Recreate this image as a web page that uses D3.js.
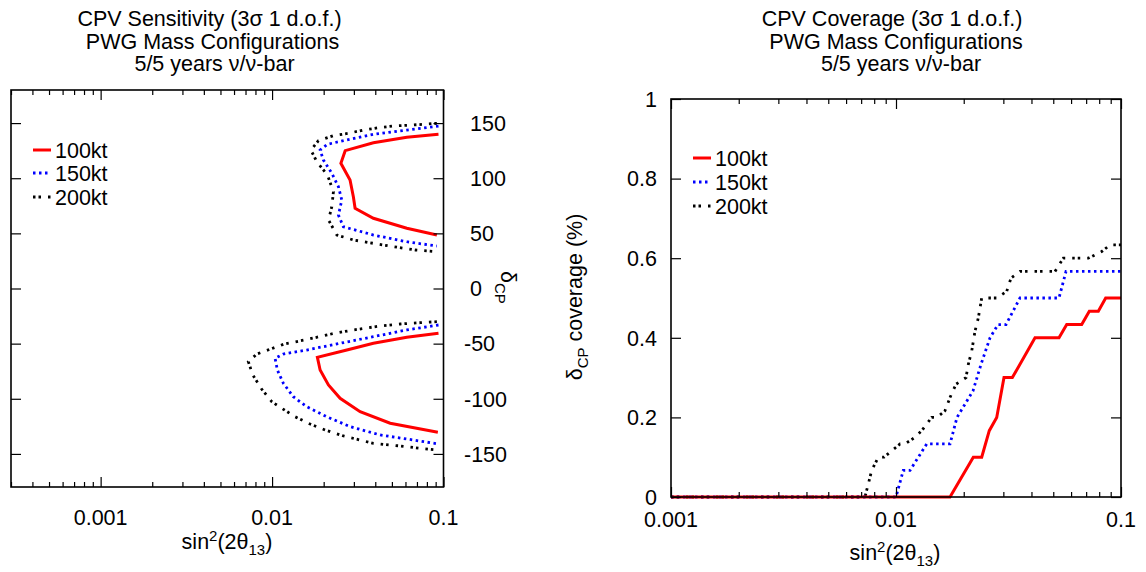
<!DOCTYPE html>
<html><head><meta charset="utf-8">
<script src="https://cdn.jsdelivr.net/npm/d3@7"></script>
<style>
body{margin:0;background:#fff}
svg{display:block}
text{font-family:"Liberation Sans",Arial,Helvetica,sans-serif;fill:#000}
</style></head><body>
<svg id="chart" width="1146" height="572"></svg>
<script>
// ---------- data ----------
const seriesNames  = ["100kt", "150kt", "200kt"];
const seriesColors = ["#ff0000", "#0000ff", "#000000"];

const sensTitle = ["CPV Sensitivity (3\u03c3 1 d.o.f.)", "PWG Mass Configurations", "5/5 years \u03bd/\u03bd-bar"];
const covTitle  = ["CPV Coverage (3\u03c3 1 d.o.f.)", "PWG Mass Configurations", "5/5 years \u03bd/\u03bd-bar"];

const sensXTicks = [0.001, 0.01, 0.1];
const sensYTicks = [-150, -100, -50, 0, 50, 100, 150];
const covXTicks  = [0.001, 0.01, 0.1];
const covYTicks  = [0, 0.2, 0.4, 0.6, 0.8, 1];

// 3 sigma CPV contours: [sin^2(2theta13), deltaCP in degrees]
const sens100Upper = [[0.0935,139.8],[0.0611,137.1],[0.039,132.2],[0.0267,125],[0.0252,113.5],[0.0285,98.4],
  [0.0298,83.2],[0.0305,72.7],[0.039,63.7],[0.0611,54.6],[0.0915,48.5]];
const sens150Upper = [[0.0935,147.3],[0.0611,143.7],[0.039,139.8],[0.0273,134.7],[0.02104,130.8],[0.01907,125.6],
  [0.01993,116.5],[0.02231,104.5],[0.02438,92.3],[0.02551,80.2],[0.02438,66.6],[0.02606,56],
  [0.039,48.5],[0.0611,42.4],[0.0915,38.5]];
const sens200Upper = [[0.0915,149.8],[0.0668,148.3],[0.0511,147.4],[0.0418,145.8],[0.0341,143.7],[0.02789,140.7],
  [0.0228,138.6],[0.01864,134],[0.01683,125.6],[0.01824,115],[0.02104,102.9],[0.0228,87.8],
  [0.02231,74.2],[0.02134,62.1],[0.02388,48.5],[0.02982,44],[0.04464,39.4],[0.0684,34.9],[0.0915,33.4]];
const sens100Lower = [[0.0935,-40.6],[0.0611,-44.3],[0.039,-49.7],[0.0273,-55.8],[0.01838,-62.4],[0.01907,-73.9],
  [0.02132,-87.5],[0.02494,-99.6],[0.03264,-111.7],[0.04886,-122.2],[0.0927,-130.4]];
const sens150Lower = [[0.0935,-33.1],[0.0611,-37.6],[0.039,-43.7],[0.02494,-49.7],[0.01594,-55.8],[0.01164,-59.4],
  [0.01041,-63.3],[0.01074,-73.9],[0.01164,-86],[0.0133,-98.1],[0.01594,-107.2],[0.02086,-116.3],
  [0.02853,-125.3],[0.04271,-132.8],[0.06682,-137.4],[0.0935,-141]];
const sens200Lower = [[0.0915,-30.1],[0.0731,-31],[0.0559,-32.2],[0.04271,-34],[0.02982,-37.6],[0.02317,-40.6],
  [0.01548,-46.7],[0.01164,-50.6],[0.00973,-55.1],[0.00814,-59.4],[0.00727,-66.4],[0.00772,-78.4],
  [0.00871,-91.4],[0.00996,-102.6],[0.01139,-108.6],[0.01362,-116.3],[0.01667,-122.9],[0.02039,-128.3],
  [0.02607,-133.7],[0.039,-140.4],[0.0559,-142.8],[0.0731,-144.9],[0.0915,-146.4]];

// deltaCP coverage fraction vs sin^2(2theta13)
const cov100 = [[0.001,0],[0.01738,0],[0.02206,0.1],[0.02404,0.1],[0.02598,0.1667],[0.02803,0.2],[0.0302,0.3],
  [0.03289,0.3],[0.04148,0.4],[0.05302,0.4],[0.05738,0.4333],[0.06689,0.4333],[0.07231,0.4667],
  [0.07929,0.4667],[0.0855,0.5],[0.1,0.5]];
const cov150 = [[0.001,0],[0.01,0],[0.01077,0.0667],[0.01154,0.0667],[0.01369,0.1333],[0.01738,0.1333],
  [0.01867,0.2],[0.02026,0.2333],[0.02199,0.2667],[0.02387,0.3333],[0.02617,0.4],[0.0284,0.4333],
  [0.03083,0.4333],[0.03311,0.4667],[0.03557,0.5],[0.05302,0.5],[0.05696,0.5667],[0.1,0.5667]];
const cov200 = [[0.001,0],[0.00728,0],[0.0078,0.0667],[0.00834,0.1],[0.00885,0.1],[0.0096,0.1167],
  [0.01042,0.1333],[0.01096,0.1333],[0.01215,0.15],[0.01301,0.1667],[0.01441,0.2],[0.01521,0.2],
  [0.01651,0.2167],[0.01738,0.25],[0.01848,0.2833],[0.02047,0.3],[0.02096,0.3333],[0.0217,0.3667],
  [0.02245,0.4167],[0.02322,0.45],[0.02404,0.5],[0.02803,0.5],[0.03105,0.5167],[0.03244,0.55],
  [0.03557,0.5667],[0.05089,0.5667],[0.05542,0.6],[0.07157,0.6],[0.08209,0.6167],[0.08936,0.6333],[0.1,0.6333]];

// ---------- styling ----------
const FS = 21.5;
const dashes = [null, "2.5,3.5", "2.5,3,2.5,7"];
const widths = [3, 2.8, 2.8];

const svg = d3.select("#chart");

function styleLine(sel, i) {
  sel.attr("fill", "none")
     .attr("stroke", seriesColors[i])
     .attr("stroke-width", widths[i])
     .attr("stroke-dasharray", dashes[i]);
}

// axis ticks (inward), majors longer than minors
function drawTicks(g, x, y, majorX, minorX, majorY) {
  const [x0, x1] = x.range(), [y0, y1] = y.range(); // y0 bottom, y1 top
  const sw = 1.2;
  const addAxis = (axis, tr) => {
    const a = g.append("g").attr("transform", tr).call(axis);
    a.select(".domain").remove();
    a.selectAll("line").attr("stroke", "#000").attr("stroke-width", sw);
    a.selectAll("text").remove();
  };
  addAxis(d3.axisBottom(x).tickValues(majorX).tickSize(-10), `translate(0,${y0})`);
  addAxis(d3.axisBottom(x).tickValues(minorX).tickSize(-5), `translate(0,${y0})`);
  addAxis(d3.axisTop(x).tickValues(majorX).tickSize(-10), `translate(0,${y1})`);
  addAxis(d3.axisTop(x).tickValues(minorX).tickSize(-5), `translate(0,${y1})`);
  addAxis(d3.axisLeft(y).tickValues(majorY).tickSize(-10), `translate(${x0},0)`);
  addAxis(d3.axisRight(y).tickValues(majorY).tickSize(-10), `translate(${x1},0)`);
  g.append("rect").attr("x", x0).attr("y", y1).attr("width", x1 - x0).attr("height", y0 - y1)
    .attr("fill", "none").attr("stroke", "#000").attr("stroke-width", 1.6);
}

function addTitle(lines, cx) {
  const ys = [26, 49, 71];
  lines.forEach((t, i) => {
    svg.append("text").attr("x", cx[i]).attr("y", ys[i]).attr("text-anchor", "middle")
      .attr("font-size", FS).text(t);
  });
}

function sinLabel(cx, y) {
  const t = svg.append("text").attr("x", cx).attr("y", y).attr("text-anchor", "middle").attr("font-size", FS);
  t.append("tspan").text("sin");
  t.append("tspan").attr("dy", -8).attr("font-size", 15).text("2");
  t.append("tspan").attr("dy", 8).text("(2\u03b8");
  t.append("tspan").attr("dy", 6).attr("font-size", 15).text("13");
  t.append("tspan").attr("dy", -6).text(")");
}

function legend(x, ys) {
  seriesNames.forEach((n, i) => {
    svg.append("line").attr("x1", x).attr("x2", x + 18).attr("y1", ys[i]).attr("y2", ys[i])
      .call(styleLine, i);
    svg.append("text").attr("x", x + 22).attr("y", ys[i]).attr("dy", "0.36em")
      .attr("font-size", FS).text(n);
  });
}

// ---------- left panel: CPV sensitivity ----------
{
  const x = d3.scaleLog().domain([0.0003, 0.1]).range([11, 443.5]);
  const y = d3.scaleLinear().domain([-180, 180]).range([487, 90]);
  const g = svg.append("g");
  const minor = x.ticks().filter(v => !sensXTicks.some(m => Math.abs(m - v) / m < 1e-6));

  const line = d3.line().x(d => x(d[0])).y(d => y(d[1]));
  const contours = [[sens100Upper, sens100Lower], [sens150Upper, sens150Lower], [sens200Upper, sens200Lower]];
  [2, 1, 0].forEach(i => {
    contours[i].forEach(c => g.append("path").attr("d", line(c)).call(styleLine, i));
  });

  drawTicks(g, x, y, sensXTicks, minor, sensYTicks);

  g.selectAll(".xl").data(sensXTicks).enter().append("text")
    .attr("x", d => x(d)).attr("y", 525).attr("text-anchor", "middle").attr("font-size", FS)
    .text(d => String(d));
  g.selectAll(".yl").data(sensYTicks).enter().append("text")
    .attr("x", d => d < 0 ? 464 : 470).attr("y", d => y(d)).attr("dy", "0.36em")
    .attr("font-size", FS).text(d => d < 0 ? "-" + Math.abs(d) : String(d));

  // deltaCP axis title, rotated to read downward
  const t = svg.append("text").attr("transform", "translate(501,271) rotate(90)").attr("font-size", FS);
  t.append("tspan").text("\u03b4");
  t.append("tspan").attr("dy", 6).attr("font-size", 15).text("CP");

  sinLabel(227, 549);
  addTitle(sensTitle, [209.5, 212.5, 214.5]);
  legend(33, [150, 173, 197]);
}

// ---------- right panel: CPV coverage ----------
{
  const x = d3.scaleLog().domain([0.001, 0.1]).range([671, 1121]);
  const y = d3.scaleLinear().domain([0, 1]).range([497, 99]);
  const g = svg.append("g");
  const minor = x.ticks().filter(v => !covXTicks.some(m => Math.abs(m - v) / m < 1e-6));

  const line = d3.line().x(d => x(d[0])).y(d => y(d[1]));
  const series = [cov100, cov150, cov200];
  [2, 1, 0].forEach(i => g.append("path").attr("d", line(series[i])).call(styleLine, i));

  drawTicks(g, x, y, covXTicks, minor, covYTicks);

  g.selectAll(".xl").data(covXTicks).enter().append("text")
    .attr("x", d => x(d)).attr("y", 527).attr("text-anchor", "middle").attr("font-size", FS)
    .text(d => String(d));
  g.selectAll(".yl").data(covYTicks).enter().append("text")
    .attr("x", 657).attr("y", d => y(d)).attr("dy", "0.36em").attr("text-anchor", "end")
    .attr("font-size", FS).text(d => String(d));

  const t = svg.append("text").attr("transform", "translate(582,297) rotate(-90)")
    .attr("text-anchor", "middle").attr("font-size", FS);
  t.append("tspan").text("\u03b4");
  t.append("tspan").attr("dy", 6).attr("font-size", 15).text("CP");
  t.append("tspan").attr("dy", -6).text(" coverage (%)");

  sinLabel(895, 560);
  addTitle(covTitle, [892, 896, 901]);
  legend(693, [158, 182, 206]);
}
</script>
</body></html>
